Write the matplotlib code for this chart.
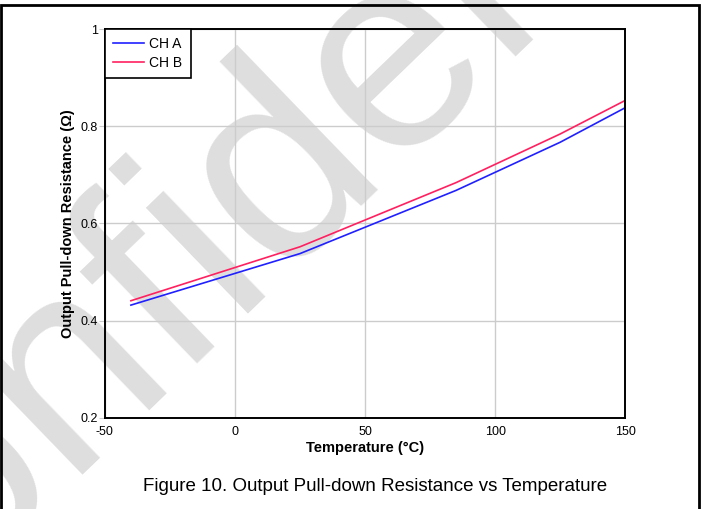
import numpy as np
import matplotlib.pyplot as plt
from matplotlib.patches import Rectangle

plt.rcParams['font.family'] = ['Liberation Sans', 'DejaVu Sans']

# pull-down resistance vs temperature, two channels
temp = [-40, 25, 85, 125, 150]
ch_a = [0.432, 0.538, 0.668, 0.767, 0.838]
ch_b = [0.441, 0.552, 0.684, 0.784, 0.853]

x_ticks = [-50, 0, 50, 100, 150]
y_ticks = [0.2, 0.4, 0.6, 0.8, 1.0]
y_labels = ['0.2', '0.4', '0.6', '0.8', '1']

fig = plt.figure(figsize=(7.04, 5.09), dpi=100)
ax = fig.add_axes([0.149, 0.179, 0.739, 0.764])
ax.set_facecolor('none')

# watermark behind everything
fig.text(0.41, 0.68, 'Confidential', fontsize=200, color='#dedede',
         rotation=44, ha='center', va='center', zorder=-5,
         family='Liberation Sans')

ax.plot(temp, ch_a, color='#2020ff', lw=1.2, label='CH A')
ax.plot(temp, ch_b, color='#ff2060', lw=1.2, label='CH B')

ax.set_xlim(-50, 150)
ax.set_ylim(0.2, 1.0)
ax.set_xticks(x_ticks)
ax.set_xticklabels([str(t) for t in x_ticks])
ax.set_yticks(y_ticks)
ax.set_yticklabels(y_labels)
ax.grid(True, color='#cccccc', lw=1)
ax.tick_params(axis='x', length=0, pad=6, labelsize=9)
ax.tick_params(axis='y', length=4, color='#cccccc', pad=1, labelsize=9)
for s in ax.spines.values():
    s.set_color('black')
    s.set_linewidth(1.4)

ax.set_xlabel('Temperature (°C)', fontsize=10.5, fontweight='bold', labelpad=2)
ax.set_ylabel('Output Pull-down Resistance (Ω)', fontsize=10.5, fontweight='bold', labelpad=4)

leg = ax.legend(loc='upper left', bbox_to_anchor=(0, 1), borderaxespad=0,
                fontsize=10, fancybox=False, framealpha=1, handlelength=2.2,
                handletextpad=0.4, borderpad=0.6, labelspacing=0.3)
leg.get_frame().set_edgecolor('black')
leg.get_frame().set_linewidth(1.2)

fig.text(0.533, 0.045, 'Figure 10. Output Pull-down Resistance vs Temperature',
         ha='center', va='center', fontsize=13.5)

# outer frame
fig.patches.append(Rectangle((0.002, -0.02), 0.991, 1.01, transform=fig.transFigure,
                             fill=False, edgecolor='black', lw=2))

fig.savefig('out.png', dpi=100)
